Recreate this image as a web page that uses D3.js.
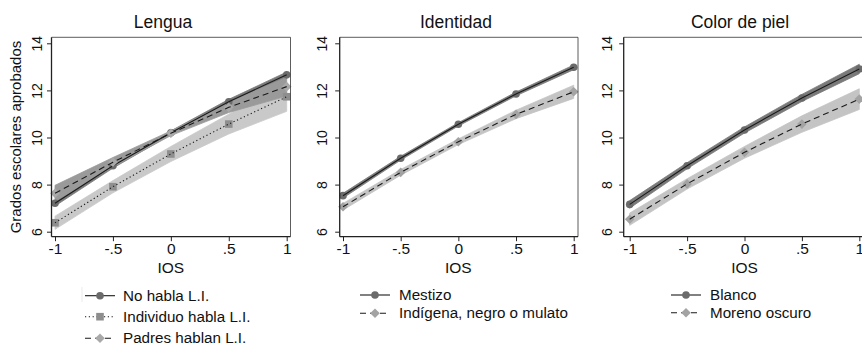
<!DOCTYPE html>
<html><head><meta charset="utf-8">
<script src="https://cdn.jsdelivr.net/npm/d3@7"></script>
<style>body{margin:0;background:#fff}svg{display:block;font-family:"Liberation Sans",Arial,sans-serif}</style>
</head><body><svg id="c" width="862" height="347"></svg>
<script>
const xVals = [-1, -0.5, 0, 0.5, 1];
const xTickLabels = ["-1", "-.5", "0", ".5", "1"];
const yTicks = [6, 8, 10, 12, 14];
const titles = ["Lengua", "Identidad", "Color de piel"];

// Lengua
const noHabla = [7.21, 8.80, 10.20, 11.52, 12.66];
const noHablaCI = [0.12, 0.1, 0.08, 0.1, 0.12];
const individuo = [6.38, 7.91, 9.30, 10.57, 11.73];
const individuoCI = [0.28, 0.26, 0.32, 0.42, 0.62];
const padres = [7.63, 8.95, 10.18, 11.28, 12.16];
const padresCI = [0.34, 0.2, 0.1, 0.22, 0.4];
// Identidad
const mestizo = [7.53, 9.12, 10.56, 11.85, 12.98];
const mestizoCI = [0.1, 0.08, 0.07, 0.08, 0.1];
const indigena = [7.06, 8.52, 9.82, 10.98, 11.94];
const indigenaCI = [0.14, 0.12, 0.12, 0.18, 0.28];
// Color de piel
const blanco = [7.16, 8.80, 10.32, 11.68, 12.91];
const blancoCI = [0.16, 0.13, 0.13, 0.15, 0.2];
const moreno = [6.53, 8.03, 9.37, 10.57, 11.63];
const morenoCI = [0.26, 0.22, 0.25, 0.35, 0.44];

const styles = {
  dark:  {band:"#7a7a7a", marker:"#6b6b6b", shape:"circle", dash:null},
  dot:   {band:"#c9c9c9", marker:"#8e8e8e", shape:"square", dash:"1.2,2.6"},
  dash:  {band:"#9a9a9a", marker:"#a9a9a9", shape:"diamond", dash:"6,4"},
  light: {band:"#c4c4c4", marker:"#a3a3a3", shape:"diamond", dash:"6,4"}
};

const panels = [
  {title:titles[0], tx:163, axisX:51.5, x0:55, x1:286.7, right:290.5, legendY:[300.7,321.7,343.3], symX:85, txtX:123,
   series:[{n:"No habla L.I.", v:noHabla, ci:noHablaCI, s:"dark"},
           {n:"Individuo habla L.I.", v:individuo, ci:individuoCI, s:"dot"},
           {n:"Padres hablan L.I.", v:padres, ci:padresCI, s:"dash"}], ylab:15},
  {title:titles[1], tx:456, axisX:339.7, x0:343, x1:573.7, right:578, legendY:[300,318.3], symX:360, txtX:399,
   series:[{n:"Mestizo", v:mestizo, ci:mestizoCI, s:"dark"},
           {n:"Indígena, negro o mulato", v:indigena, ci:indigenaCI, s:"light"}], ylab:18},
  {title:titles[2], tx:740, axisX:623.7, x0:629.7, x1:859.3, right:862.5, legendY:[300,317.7], symX:671, txtX:710,
   series:[{n:"Blanco", v:blanco, ci:blancoCI, s:"dark"},
           {n:"Moreno oscuro", v:moreno, ci:morenoCI, s:"light"}], ylab:17}
];

const svg = d3.select("#c");
const plotTop = 37.3, plotBottom = 236.7;
const y = d3.scaleLinear().domain([6,14]).range([231.7, 43.3]);

function marker(g, shape, cx, cy, fill){
  if(shape==="circle") g.append("circle").attr("cx",cx).attr("cy",cy).attr("r",3.8).attr("fill",fill);
  else if(shape==="square") g.append("rect").attr("x",cx-3.8).attr("y",cy-3.8).attr("width",7.6).attr("height",7.6).attr("fill",fill);
  else g.append("path").attr("d",`M${cx},${cy-4.8}L${cx+4.8},${cy}L${cx},${cy+4.8}L${cx-4.8},${cy}Z`).attr("fill",fill);
}

panels.forEach((p,pi)=>{
  const x = d3.scaleLinear().domain([-1,1]).range([p.x0,p.x1]);
  const g = svg.append("g");
  p.series.forEach(s=>{
    const st = styles[s.s];
    const area = d3.area().x((d,i)=>x(xVals[i])).y0((d,i)=>y(d - s.ci[i])).y1((d,i)=>y(d + s.ci[i]));
    g.append("path").attr("d",area(s.v)).attr("fill",st.band).attr("stroke",st.band).attr("stroke-width",0.8);
  });
  p.series.forEach(s=>{
    const st = styles[s.s];
    const line = d3.line().x((d,i)=>x(xVals[i])).y(d=>y(d));
    s.v.forEach((d,i)=>marker(g, st.shape, x(xVals[i]), y(d), st.marker));
    g.append("path").attr("d",line(s.v)).attr("fill","none").attr("stroke","#1a1a1a").attr("stroke-width",1.1)
      .attr("stroke-dasharray",st.dash);
  });
  g.append("path").attr("d",`M${p.axisX},${plotTop}H${p.right}V${plotBottom}`).attr("fill","none").attr("stroke","#333").attr("stroke-width",0.8);
  const xa = svg.append("g").attr("transform",`translate(0,${plotBottom})`)
    .call(d3.axisBottom(x).tickValues(xVals).tickFormat((d,i)=>xTickLabels[i]).tickSize(4.5).tickSizeOuter(0));
  xa.select(".domain").attr("d",`M${p.axisX},0H${p.right}`).attr("stroke","#222").attr("stroke-width",1.3);
  xa.selectAll(".tick line").attr("stroke","#222");
  xa.selectAll(".tick text").attr("font-size",15.5).attr("fill","#111").attr("y",6.5).attr("dy","0.71em")
    .attr("font-family","Liberation Sans, Arial, sans-serif");
  const ya = svg.append("g").attr("transform",`translate(${p.axisX},0)`)
    .call(d3.axisLeft(y).tickValues(yTicks).tickSize(4.5).tickSizeOuter(0));
  ya.select(".domain").attr("d",`M0,${plotTop}V${plotBottom}`).attr("stroke","#222").attr("stroke-width",1.3);
  ya.selectAll(".tick line").attr("stroke","#222");
  ya.selectAll(".tick text").attr("font-size",14).attr("fill","#111").attr("x",0).attr("dy",null)
    .attr("text-anchor","middle").attr("transform",`translate(${-p.ylab+5},0) rotate(-90)`)
    .attr("font-family","Liberation Sans, Arial, sans-serif");
  svg.append("text").attr("x",p.tx).attr("y",28).attr("text-anchor","middle").attr("font-size",17.5).attr("fill","#111").text(p.title);
  svg.append("text").attr("x",x(0)).attr("y",273).attr("text-anchor","middle").attr("font-size",15.5).attr("fill","#111").text("IOS");
  p.series.forEach((s,i)=>{
    const st = styles[s.s];
    const ly = p.legendY[i] - 5;
    const lg = svg.append("g");
    lg.append("line").attr("x1",p.symX).attr("x2",p.symX+30).attr("y1",ly).attr("y2",ly).attr("stroke","#1a1a1a").attr("stroke-width",1.1).attr("stroke-dasharray",st.dash);
    marker(lg, st.shape, p.symX+15, ly, st.marker);
    lg.append("text").attr("x",p.txtX).attr("y",p.legendY[i]).attr("font-size",15.2).attr("fill","#111").text(s.n);
  });
});
svg.append("line").attr("x1",82).attr("x2",82).attr("y1",287).attr("y2",302).attr("stroke","#e6e6e6").attr("stroke-width",0.8);
svg.append("text").attr("transform","translate(21,137) rotate(-90)").attr("text-anchor","middle").attr("font-size",15).attr("fill","#111").text("Grados escolares aprobados");
</script></body></html>
